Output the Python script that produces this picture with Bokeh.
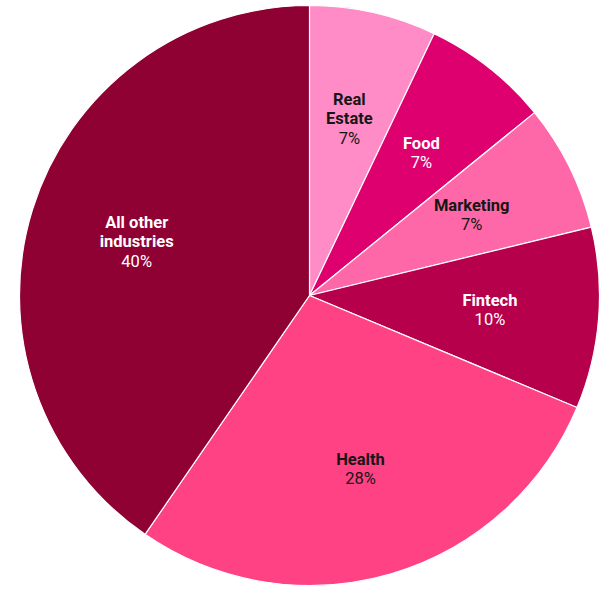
import numpy as np
from bokeh.plotting import figure
from bokeh.models import ColumnDataSource, Range1d
from bokeh.core.properties import value
from bokeh.embed import file_html
from bokeh.resources import INLINE

# ---- data ----
categories = ["Real Estate", "Food", "Marketing", "Fintech", "Health", "All other industries"]
label_names = ["Real\nEstate", "Food", "Marketing", "Fintech", "Health", "All other\nindustries"]
shares = [7, 7, 7, 10, 28, 40]
pct_labels = ["7%", "7%", "7%", "10%", "28%", "40%"]
colors = ["#ff8cc6", "#de006f", "#ff68a8", "#b6004c", "#ff4284", "#8f0033"]
text_colors = ["#161616", "#ffffff", "#161616", "#ffffff", "#161616", "#ffffff"]

W, H = 599, 588
CX, CY, R = 309, 293, 290
LABEL_R = 181
LINE = 19.5
FONT = "Roboto"
FS = "16.5px"

vals = np.array(shares, dtype=float)
frac = vals / vals.sum()
cum = np.concatenate([[0], np.cumsum(frac)])
start = np.pi / 2 - 2 * np.pi * cum[:-1]
end = np.pi / 2 - 2 * np.pi * cum[1:]
mid = (start + end) / 2

wedges = ColumnDataSource(dict(
    start=start, end=end, color=colors, cat=categories,
    x=[CX] * len(categories), y=[CY] * len(categories)))

p = figure(width=W, height=H, output_backend="svg", toolbar_location=None,
           x_range=Range1d(0, W), y_range=Range1d(0, H), min_border=0,
           outline_line_color=None)
p.axis.visible = False
p.grid.visible = False
p.background_fill_color = "white"
p.border_fill_color = "white"

p.wedge(x="x", y="y", radius=R, start_angle="start", end_angle="end",
        direction="clock", fill_color="color", line_color="white",
        line_width=1.2, source=wedges)

# labels
nx, ny, nt, nc = [], [], [], []
px, py, pt, pc = [], [], [], []
for i in range(len(categories)):
    lines = label_names[i].split("\n")
    n = len(lines) + 1
    lx = CX + LABEL_R * np.cos(mid[i])
    ly = CY + LABEL_R * np.sin(mid[i])
    for j, ln in enumerate(lines):
        nx.append(lx)
        ny.append(ly + ((n - 1) / 2 - j) * LINE)
        nt.append(ln)
        nc.append(text_colors[i])
    px.append(lx)
    py.append(ly - (n - 1) / 2 * LINE)
    pt.append(pct_labels[i])
    pc.append(text_colors[i])

p.text(x=nx, y=ny, text=nt, text_color=nc, text_font=value(FONT),
       text_font_style="bold", text_font_size=FS,
       text_align="center", text_baseline="middle")
p.text(x=px, y=py, text=pt, text_color=pc, text_font=value(FONT),
       text_font_size=FS, text_align="center", text_baseline="middle")

open("out.html", "w").write(file_html(p, INLINE))
